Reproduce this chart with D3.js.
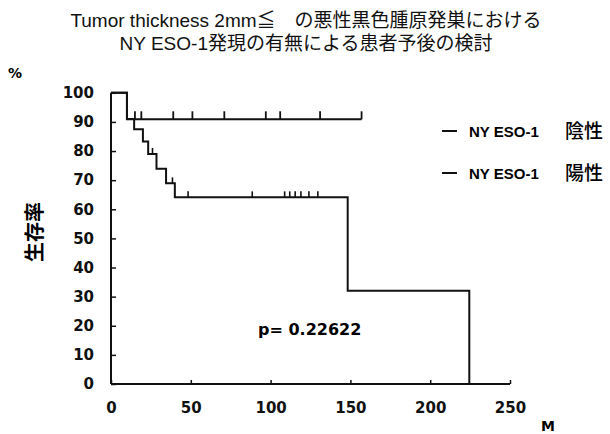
<!DOCTYPE html>
<html><head><meta charset="utf-8">
<script src="https://cdn.jsdelivr.net/npm/d3@7"></script>
<style>
html,body{margin:0;padding:0;background:#fff;}
svg{display:block;}
</style></head>
<body>
<script>
// ---- data ----
const titleLines = ["Tumor thickness 2mm\u2266\u3000の悪性黒色腫原発巣における", "NY ESO-1発現の有無による患者予後の検討"];
const xTicks = [0, 50, 100, 150, 200, 250];
const yTicks = [0, 10, 20, 30, 40, 50, 60, 70, 80, 90, 100];
// NY ESO-1 negative (陰性)
const negEventTimes = [0, 10];
const negSurvival = [100, 90.9];
const negEndTime = 157;
const negCensorTimes = [15, 19, 39, 51, 71, 97, 106, 131, 157];
// NY ESO-1 positive (陽性)
const posEventTimes = [0, 10, 14.5, 20, 23.3, 28.5, 34.5, 40, 148.3, 224.5];
const posSurvival = [100, 91, 87.5, 83.3, 79.0, 73.9, 68.9, 64.1, 32.0, 0];
const posCensorTimes = [26, 38.5, 48.3, 88.5, 108.8, 112, 115.4, 119, 124, 129.6];
const legendLabels = [["NY ESO-1", "陰性"], ["NY ESO-1", "陽性"]];
const pValueText = "p= 0.22622";

// ---- drawing ----
const W = 610, H = 434;
const svg = d3.select("body").append("svg").attr("width", W).attr("height", H);
const x = d3.scaleLinear().domain([0, 250]).range([111, 510]);
const y = d3.scaleLinear().domain([0, 100]).range([384, 92.8]);
const latin = "'Liberation Sans', Arial, sans-serif";
const cjk = "'Liberation Sans', 'Noto Sans CJK JP', sans-serif";
const bold = "'DejaVu Sans', sans-serif";

svg.append("g").selectAll("text").data(titleLines).join("text")
  .attr("x", 306).attr("y", (d, i) => 27 + i * 23)
  .attr("text-anchor", "middle")
  .style("font-family", cjk).style("font-size", "19px").attr("fill", "#111")
  .text(d => d);

svg.append("text").attr("x", 8).attr("y", 78)
  .style("font-family", bold).style("font-weight", "bold").style("font-size", "14px")
  .text("%");

// axes
const gx = svg.append("g").attr("transform", `translate(0,${y(0)})`)
  .call(d3.axisBottom(x).tickValues(xTicks).tickSize(-4).tickPadding(16).tickFormat(d3.format("d")));
const gy = svg.append("g").attr("transform", `translate(${x(0)},0)`)
  .call(d3.axisLeft(y).tickValues(yTicks).tickSize(-5).tickPadding(17).tickFormat(d3.format("d")));
[gx, gy].forEach(g => {
  g.select(".domain").attr("stroke", "#111").attr("stroke-width", 2);
  g.selectAll(".tick line").attr("stroke", "#111").attr("stroke-width", 1.5);
  g.selectAll(".tick text").attr("fill", "#111")
    .style("font-family", bold).style("font-weight", "bold").style("font-size", "15px");
});
gx.select(".domain").attr("d", `M${x(0)},0H${x(250)}`);
gx.selectAll(".tick text").attr("dy", "0.85em");
gy.select(".domain").attr("d", `M0,${y(0)}V${y(100)}`);

// curves
const line = d3.line().x(d => x(d[0])).y(d => y(d[1])).curve(d3.curveStepAfter);
const negPts = negEventTimes.map((t, i) => [t, negSurvival[i]]).concat([[negEndTime, negSurvival[negSurvival.length - 1]]]);
const posPts = posEventTimes.map((t, i) => [t, posSurvival[i]]);
function survAt(times, surv, t) {
  let s = surv[0];
  times.forEach((tt, i) => { if (tt <= t) s = surv[i]; });
  return s;
}
svg.append("path").attr("d", line(negPts)).attr("fill", "none").attr("stroke", "#111").attr("stroke-width", 2);
svg.append("path").attr("d", line(posPts)).attr("fill", "none").attr("stroke", "#111").attr("stroke-width", 2);

svg.append("g").selectAll("line").data(negCensorTimes).join("line")
  .attr("x1", d => x(d)).attr("x2", d => x(d))
  .attr("y1", d => y(survAt(negEventTimes, negSurvival, d)))
  .attr("y2", d => y(survAt(negEventTimes, negSurvival, d)) - 8)
  .attr("stroke", "#111").attr("stroke-width", 1.8);
svg.append("g").selectAll("line").data(posCensorTimes).join("line")
  .attr("x1", d => x(d)).attr("x2", d => x(d))
  .attr("y1", d => y(survAt(posEventTimes, posSurvival, d)))
  .attr("y2", d => y(survAt(posEventTimes, posSurvival, d)) - 6)
  .attr("stroke", "#111").attr("stroke-width", 1.6);

// legend
const lg = svg.append("g").selectAll("g").data(legendLabels).join("g")
  .attr("transform", (d, i) => `translate(0,${131 + i * 42})`);
lg.append("line").attr("x1", 442).attr("x2", 457).attr("y1", 0).attr("y2", 0)
  .attr("stroke", "#111").attr("stroke-width", 2);
lg.append("text").attr("x", 469).attr("y", 6)
  .style("font-family", latin).style("font-weight", "bold").style("font-size", "15px")
  .text(d => d[0]);
lg.append("text").attr("x", 565).attr("y", 7)
  .style("font-family", "'Noto Sans CJK JP', sans-serif").style("font-weight", "500").style("font-size", "19px")
  .text(d => d[1]);

svg.append("text").attr("transform", "translate(33,232) rotate(-90)")
  .attr("text-anchor", "middle").attr("dominant-baseline", "central")
  .style("font-family", "'Noto Sans CJK JP', sans-serif").style("font-weight", "bold").style("font-size", "20px")
  .text("生存率");

svg.append("text").attr("x", 258).attr("y", 335)
  .style("font-family", bold).style("font-weight", "bold").style("font-size", "16px")
  .text(pValueText);

svg.append("text").attr("x", 548).attr("y", 431).attr("text-anchor", "middle")
  .style("font-family", bold).style("font-weight", "bold").style("font-size", "14px")
  .text("M");
</script>
</body></html>
